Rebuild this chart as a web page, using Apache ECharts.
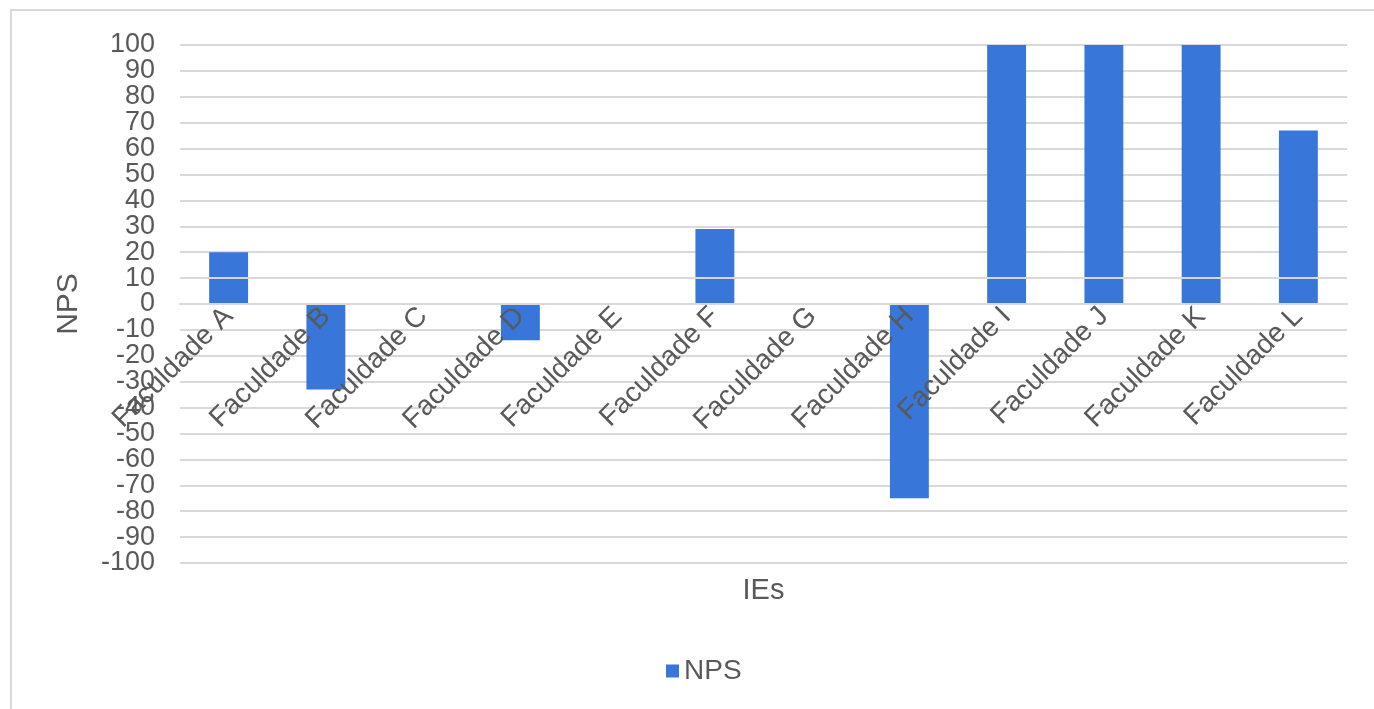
<!DOCTYPE html>
<html>
<head>
<meta charset="utf-8">
<script src="https://cdn.jsdelivr.net/npm/echarts@6/dist/echarts.min.js"></script>
<style>
  html, body { margin: 0; padding: 0; background: #fff; }
  #chart { width: 1374px; height: 709px; }
</style>
</head>
<body>
<div id="chart"></div>
<script>
// NPS score per institution
const categories = ['Faculdade A', 'Faculdade B', 'Faculdade C', 'Faculdade D', 'Faculdade E', 'Faculdade F',
                    'Faculdade G', 'Faculdade H', 'Faculdade I', 'Faculdade J', 'Faculdade K', 'Faculdade L'];
const npsValues = [20, -33, 0, -14, 0, 29, 0, -75, 100, 100, 100, 67];
const yTickMin = -100;
const yTickMax = 100;
const yTickStep = 10;
const seriesName = 'NPS';
const yAxisTitle = 'NPS';
const xAxisTitle = 'IEs';

const textColor = '#595959';
const gridColor = '#d9d9d9';
const barColor = '#3876d9';
const fontFamily = '"Liberation Sans", Arial, sans-serif';

// plot box
const gridTop = 45;
const gridBottom = 146;
const plotHeight = 709 - gridTop - gridBottom;
// the category axis sits on the zero line of the value axis
const zeroShift = plotHeight * (yTickMax - 0) / (yTickMax - yTickMin);
const axisOffset = -(plotHeight - zeroShift);

const yLabelStyle = { color: textColor, fontSize: 27, fontFamily: fontFamily, margin: 25 };

const chart = echarts.init(document.getElementById('chart'), null, { renderer: 'canvas' });

chart.setOption({
  animation: false,
  textStyle: { fontFamily: fontFamily },
  graphic: [
    {
      // outer chart frame
      type: 'polyline',
      shape: { points: [[11, 712], [11, 10], [1380, 10]] },
      style: { stroke: gridColor, lineWidth: 2, fill: null },
      silent: true
    }
  ],
  grid: { left: 180, right: 27, top: gridTop, bottom: gridBottom, containLabel: false, outerBoundsMode: 'none' },
  legend: {
    data: [seriesName],
    left: 661,
    top: 652,
    icon: 'rect',
    itemWidth: 13,
    itemHeight: 13,
    itemGap: 8,
    textStyle: { color: textColor, fontSize: 28, fontFamily: fontFamily }
  },
  xAxis: {
    type: 'category',
    data: categories,
    position: 'bottom',
    offset: axisOffset,
    z: 5,
    name: xAxisTitle,
    nameLocation: 'middle',
    nameGap: 272,
    nameTextStyle: { color: textColor, fontSize: 29, fontFamily: fontFamily },
    axisLine: { show: true, onZero: false, lineStyle: { color: gridColor, width: 2 } },
    axisTick: { show: false },
    axisLabel: {
      interval: 0,
      rotate: 45,
      margin: 8,
      color: textColor,
      fontSize: 28,
      fontFamily: fontFamily,
      hideOverlap: false
    },
    splitLine: { show: false }
  },
  yAxis: [
    {
      // inner ticks (-90 … 90), grid lines and axis title
      type: 'value',
      position: 'left',
      min: yTickMin,
      max: yTickMax,
      interval: yTickStep,
      name: yAxisTitle,
      nameLocation: 'middle',
      nameGap: 96,
      nameTextStyle: { color: textColor, fontSize: 30, fontFamily: fontFamily },
      axisLine: { show: false },
      axisTick: { show: false },
      axisLabel: Object.assign({ showMinLabel: false, showMaxLabel: false }, yLabelStyle),
      splitLine: { show: true, lineStyle: { color: gridColor, width: 2 } }
    },
    {
      // end ticks (-100 and 100) on the same scale
      type: 'value',
      position: 'left',
      offset: 0,
      min: yTickMin,
      max: yTickMax,
      interval: yTickStep,
      axisLine: { show: false },
      axisTick: { show: false },
      axisLabel: Object.assign({
        showMinLabel: true,
        showMaxLabel: true,
        formatter: function (v) { return (v === yTickMin || v === yTickMax) ? String(v) : ''; }
      }, yLabelStyle),
      splitLine: { show: false }
    }
  ],
  series: [
    {
      name: seriesName,
      type: 'bar',
      yAxisIndex: 0,
      data: npsValues,
      barWidth: '40%',
      itemStyle: { color: barColor },
      markLine: {
        silent: true,
        symbol: ['none', 'none'],
        label: { show: false },
        lineStyle: { color: gridColor, width: 2, type: 'solid' },
        data: [{ yAxis: 10 }]
      }
    }
  ]
});
</script>
</body>
</html>
